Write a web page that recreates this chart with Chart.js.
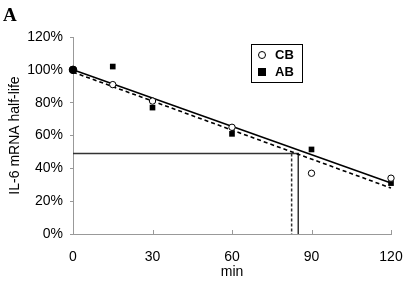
<!DOCTYPE html>
<html>
<head>
<meta charset="utf-8">
<script src="https://cdn.jsdelivr.net/npm/chart.js@4"></script>
<style>
    body { margin: 0; background: #fff; }
    #wrap { position: relative; width: 407px; height: 282px; }
    #panel {
        position: absolute; left: 3px; top: 4px;
        font: bold 19px "Liberation Serif", "Times New Roman", serif;
    }
    #legend {
        position: absolute; left: 251px; top: 44px; width: 50px; height: 37px;
        border: 1px solid #000; font: bold 13px "Liberation Sans", Arial, sans-serif;
    }
    .row { position: absolute; left: 0; height: 16px; line-height: 16px; }
    .row span { position: absolute; left: 23px; }
    .mk { position: absolute; box-sizing: border-box; }
</style>
</head>
<body>
<div id="wrap">
    <canvas id="chart" width="407" height="282"></canvas>
    <div id="panel">A</div>
    <div id="legend">
        <div class="row" style="top:2px"><div class="mk" style="left:6px;top:4px;width:8px;height:8px;border:1px solid #000;border-radius:50%;background:#fff"></div><span>CB</span></div>
        <div class="row" style="top:19px"><div class="mk" style="left:6px;top:4px;width:8px;height:8px;background:#000"></div><span>AB</span></div>
    </div>
</div>
<script>
const minutes = [0, 15, 30, 60, 90, 120];
const cbValues = [100, 91, 81, 65, 37, 34];
const abValues = [100, 102, 77, 61, 51.5, 31];

// fitted lines, value at 0 and 120 min
const fitX = [0, 120];
const solidFit = [100, 31];
const dashedFit = [98.6, 28];

// half-life markers
const halfLevel = 49;
const solidHalf = 85;
const dashedHalf = 82.5;

const xTicks = [0, 30, 60, 90, 120];

const toPoints = (xs, ys) => xs.map((x, i) => ({ x: x, y: ys[i] }));

const font = { family: '"Liberation Sans", Arial, sans-serif', size: 14 };

// small ticks pointing up into the plot on the x axis
const innerTicks = {
    id: 'innerTicks',
    afterDraw(chart) {
        const { ctx, scales: { x, y } } = chart;
        ctx.save();
        ctx.strokeStyle = '#999';
        ctx.lineWidth = 1;
        for (const t of xTicks) {
            const px = Math.round(x.getPixelForValue(t)) + 0.5;
            ctx.beginPath();
            ctx.moveTo(px, y.bottom);
            ctx.lineTo(px, y.bottom - 4);
            ctx.stroke();
        }
        ctx.restore();
    }
};

new Chart(document.getElementById('chart'), {
    type: 'scatter',
    data: {
        datasets: [
            {
                label: 'CB',
                data: toPoints(minutes, cbValues),
                pointStyle: 'circle',
                pointRadius: [3.8, 3.2, 3.2, 3.2, 3.2, 3.2],
                backgroundColor: ['#000', '#fff', '#fff', '#fff', '#fff', '#fff'],
                borderColor: '#000',
                borderWidth: 1,
                clip: false
            },
            {
                label: 'AB',
                data: toPoints(minutes, abValues),
                pointStyle: ['circle', 'rect', 'rect', 'rect', 'rect', 'rect'],
                pointRadius: [3.8, 4, 4, 4, 4, 4],
                backgroundColor: '#000',
                borderColor: '#000',
                borderWidth: 0,
                clip: false
            },
            {
                type: 'line',
                data: toPoints(fitX, solidFit),
                borderColor: '#000',
                borderWidth: 1.6,
                pointRadius: 0,
                clip: false
            },
            {
                type: 'line',
                data: toPoints(fitX, dashedFit),
                borderColor: '#000',
                borderWidth: 1.6,
                borderDash: [4, 3],
                pointRadius: 0,
                clip: false
            },
            {
                type: 'line',
                data: [{ x: 0, y: halfLevel }, { x: solidHalf, y: halfLevel }, { x: solidHalf, y: 0 }],
                borderColor: '#333',
                borderWidth: 1.5,
                pointRadius: 0
            },
            {
                type: 'line',
                data: [{ x: dashedHalf, y: halfLevel }, { x: dashedHalf, y: 0 }],
                borderColor: '#333',
                borderWidth: 1.5,
                borderDash: [3, 2],
                pointRadius: 0
            }
        ]
    },
    options: {
        responsive: false,
        animation: false,
        layout: { padding: { top: 37, right: 16, left: 0, bottom: 0 } },
        plugins: {
            legend: { display: false },
            tooltip: { enabled: false }
        },
        scales: {
            x: {
                type: 'linear',
                min: 0,
                max: 120,
                afterBuildTicks: (s) => { s.ticks = xTicks.map(v => ({ value: v })); },
                afterFit: (s) => {
                    s.height = 48;
                    s.paddingLeft = 0;
                    s.paddingRight = 0;
                },
                grid: { display: true, drawOnChartArea: false, drawTicks: false },
                border: { color: '#999', width: 1 },
                ticks: { color: '#000', font: font, padding: 15, maxRotation: 0 },
                title: { display: true, text: 'min', color: '#000', font: font, padding: { top: 0, bottom: 1 } }
            },
            y: {
                min: 0,
                max: 120,
                afterFit: (s) => {
                    s.width = 73;
                    s.paddingTop = 0;
                    s.paddingBottom = 0;
                },
                grid: { display: true, drawOnChartArea: false, drawTicks: true, tickLength: 3, color: '#999' },
                border: { color: '#999', width: 1 },
                ticks: {
                    stepSize: 20,
                    color: '#000',
                    font: font,
                    padding: 7,
                    callback: (v) => v + '%'
                },
                title: { display: true, text: 'IL-6 mRNA half-life', color: '#000', font: font, padding: { top: 7, bottom: 0 } }
            }
        }
    },
    plugins: [innerTicks]
});
</script>
</body>
</html>
